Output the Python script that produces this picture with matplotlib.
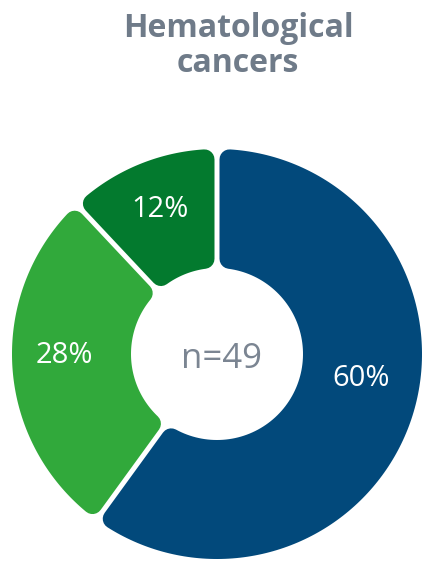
import numpy as np
import matplotlib
matplotlib.use("Agg")
import matplotlib.pyplot as plt
from matplotlib.patches import Polygon

# ---- data ----
title_lines = ["Hematological", "cancers"]
categories = ["Category A", "Category B", "Category C"]
values = [60, 28, 12]
labels = ["60%", "28%", "12%"]
center_text = "n=49"

# ---- style ----
colors = ["#02497b", "#31a93b", "#037a2e"]
title_color = "#6f7b89"
center_color = "#7b8592"
W, H, DPI = 424, 562, 100
cx, cy = 217, 354          # pixel centre
R_out, R_in = 205, 86
corner = 10
gap = 5
# label anchor offsets (pixels from centre, baseline)
label_offsets = [(144, 32), (-153, 9), (-56.5, -137)]

fig = plt.figure(figsize=(W / DPI, H / DPI), dpi=DPI)
ax = fig.add_axes([0, 0, 1, 1])
ax.set_xlim(0, W)
ax.set_ylim(H, 0)
ax.set_aspect("equal")
ax.axis("off")

font = "Open Sans"

def sector_poly(t0, t1):
    """t0,t1 clockwise-from-top angles in degrees; returns pixel polygon shrunk by corner+gap/2."""
    d = gap / 2 + corner
    ro, ri = R_out - corner, R_in + corner
    a0 = np.radians(90 - t0)
    a1 = np.radians(90 - t1)
    do, di = np.arcsin(d / ro), np.arcsin(d / ri)
    outer = np.linspace(a0 - do, a1 + do, 200)
    inner = np.linspace(a1 + di, a0 - di, 100)
    xs = np.concatenate([cx + ro * np.cos(outer), cx + ri * np.cos(inner)])
    ys = np.concatenate([cy - ro * np.sin(outer), cy - ri * np.sin(inner)])
    return np.column_stack([xs, ys])

total = sum(values)
start = 0.0
lw_pt = 2 * corner * 72 / DPI
for v, col in zip(values, colors):
    span = 360.0 * v / total
    pts = sector_poly(start, start + span)
    ax.add_patch(Polygon(pts, closed=True, facecolor=col, edgecolor=col,
                         linewidth=lw_pt, joinstyle="round"))
    start += span

for lab, (dx, dy) in zip(labels, label_offsets):
    ax.text(cx + dx, cy + dy, lab, ha="center", va="baseline", color="white",
            fontsize=21, family=font)

ax.text(cx + 4, cy + 14, center_text, ha="center", va="baseline",
        color=center_color, fontsize=25, family=font)

ax.text(238, 37, title_lines[0], ha="center", va="baseline", color=title_color,
        fontsize=23, fontweight="bold", family=font)
ax.text(238, 72, title_lines[1], ha="center", va="baseline", color=title_color,
        fontsize=23, fontweight="bold", family=font)

fig.savefig("out.png", dpi=DPI, facecolor="white")
